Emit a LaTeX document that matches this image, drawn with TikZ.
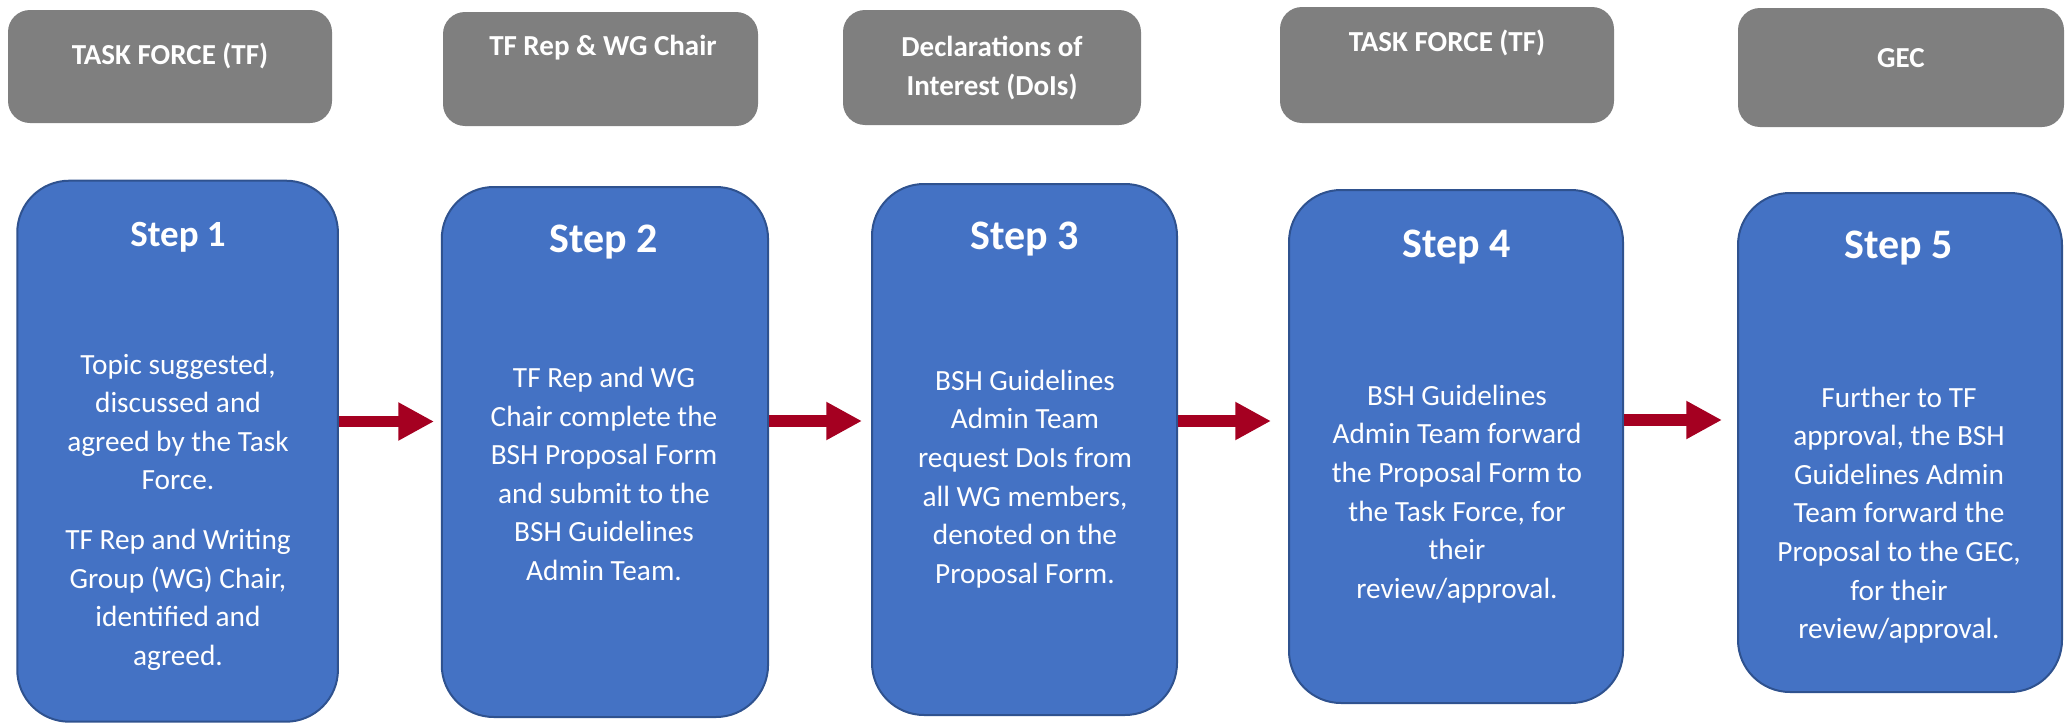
\documentclass[tikz,border=0pt]{standalone}
\usepackage{fontspec}
\setmainfont{Carlito}
\usetikzlibrary{arrows.meta,calc}
\definecolor{stepblue}{HTML}{4472C4}
\definecolor{stepborder}{HTML}{2F528F}
\definecolor{headgray}{HTML}{7F7F7F}
\definecolor{flowred}{HTML}{A50021}
\tikzset{
  stepbox/.style={draw=stepborder, line width=2pt, fill=stepblue, rounded corners=52pt, inner sep=0pt},
  headbox/.style={fill=headgray, rounded corners=22pt, inner sep=0pt},
  headtext/.style={text=white, font=\fontsize{29}{38.5}\bfseries\selectfont, align=center, inner sep=0pt},
  steptitle/.style={text=white, font=\fontsize{42}{50}\bfseries\selectfont, inner sep=0pt},
  bodytext/.style={text=white, font=\fontsize{29.3}{38.6}\selectfont, align=center, inner sep=0pt},
  flow/.style={draw=flowred, line width=11.7pt, -{Triangle[width=35.7pt,length=35.7pt]}}
}
\begin{document}
\begin{tikzpicture}[x=1pt,y=-1pt]
\useasboundingbox (0,0) rectangle (2065,723);
% header boxes
\node[headbox, minimum width=324pt, minimum height=113pt] (g1) at (170,66.5) {};
\node[headbox, minimum width=315pt, minimum height=114pt] (g2) at (600.5,69) {};
\node[headbox, minimum width=298pt, minimum height=115pt] (g3) at (992,67.5) {};
\node[headbox, minimum width=334pt, minimum height=116pt] (g4) at (1447,65) {};
\node[headbox, minimum width=326pt, minimum height=119pt] (g5) at (1901,67.5) {};
\node[headtext] (h1) at (170,56) {TASK FORCE (TF)};
\node[headtext] (h2) at (603,48) {TF Rep \& WG Chair};
\node[headtext] (h3) at (992,68) {Declarations of\\Interest (DoIs)};
\node[headtext] (h4) at (1447,43) {TASK FORCE (TF)};
\node[headtext] (h5) at (1901,58) {GEC};
% step boxes
\node[stepbox, minimum width=320.7pt, minimum height=541pt] (s1) at (177.6,451.2) {};
\node[stepbox, minimum width=326.3pt, minimum height=530pt] (s2) at (604.9,452) {};
\node[stepbox, minimum width=305pt, minimum height=531pt] (s3) at (1024.5,449.5) {};
\node[stepbox, minimum width=334pt, minimum height=513pt] (s4) at (1456,446.5) {};
\node[stepbox, minimum width=324pt, minimum height=499pt] (s5) at (1900,442.5) {};
% titles
\node[steptitle, font=\fontsize{37}{44}\bfseries\selectfont] (st1) at (178,237) {Step 1};
\node[steptitle] (st2) at (604,242) {Step 2};
\node[steptitle] (st3) at (1025,239) {Step 3};
\node[steptitle] (st4) at (1457,247) {Step 4};
\node[steptitle] (st5) at (1899,248) {Step 5};
% bodies
\node[bodytext] (b1) at (178,512) {Topic suggested,\\discussed and\\agreed by the Task\\Force.\\[21pt]TF Rep and Writing\\Group (WG) Chair,\\identified and\\agreed.};
\node[bodytext] (b2) at (604,474) {TF Rep and WG\\Chair complete the\\BSH Proposal Form\\and submit to the\\BSH Guidelines\\Admin Team.};
\node[bodytext] (b3) at (1025,479) {BSH Guidelines\\Admin Team\\request DoIs from\\all WG members,\\denoted on the\\Proposal Form.};
\node[bodytext] (b4) at (1457,494) {BSH Guidelines\\Admin Team forward\\the Proposal Form to\\the Task Force, for\\their\\review/approval.};
\node[bodytext] (b5) at (1899,515) {Further to TF\\approval, the BSH\\Guidelines Admin\\Team forward the\\Proposal to the GEC,\\for their\\review/approval.};
% arrows
\coordinate (a1) at (0,421.5);
\coordinate (a2) at (0,421);
\coordinate (a3) at (0,421);
\coordinate (a4) at (0,420);
\draw[flow, shorten >=6.7pt] (s1.east |- a1) -- (s2.west |- a1);
\draw[flow, shorten >=9pt] (s2.east |- a2) -- (s3.west |- a2);
\draw[flow, shorten >=17pt] (s3.east |- a3) -- (s4.west |- a3);
\draw[flow, shorten >=15pt] (s4.east |- a4) -- (s5.west |- a4);
\end{tikzpicture}
\end{document}
